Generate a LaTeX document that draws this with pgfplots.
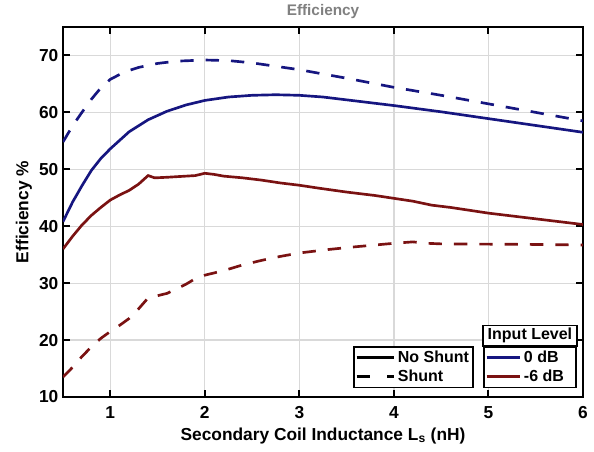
\documentclass[border=0pt]{standalone}
\usepackage{fontspec}
\setmainfont{Liberation Sans}
\usepackage{pgfplots}
\pgfplotsset{compat=1.18}
\definecolor{navy}{RGB}{22,22,128}
\definecolor{dred}{RGB}{122,18,18}
\definecolor{ttl}{RGB}{128,128,128}
\begin{document}
\begin{tikzpicture}
\path[use as bounding box] (-47.25pt,-41.25pt) rectangle (398.25pt,297.75pt);
\begin{axis}[
  at={(0,0)}, anchor=south west,
  scale only axis, width=390pt, height=277.5pt,
  xmin=0.5, xmax=6, ymin=10, ymax=75,
  xtick={1,2,3,4,5,6}, ytick={10,20,30,40,50,60,70},
  /pgf/number format/assume math mode=true,
  tick label style={font=\bfseries\fontsize{13}{14}\selectfont},
  xticklabel style={yshift=-3.5pt},
  grid=major, grid style={line width=0.9pt, black!15},
  axis line style={line width=1.6pt},
  tick style={line width=1.5pt, black},
  major tick length=5pt,
  tick align=inside,
  xlabel={Secondary Coil Inductance L\textsubscript{s} (nH)},
  ylabel={Efficiency \%},
  label style={font=\bfseries\fontsize{13}{14}\selectfont},
  xlabel style={at={(axis description cs:0.5,0)}, anchor=base, yshift=-32.5pt},
  ylabel style={at={(axis description cs:-0.075,0.5)}, anchor=center},
  title={Efficiency},
  every axis title shift=0pt,
  title style={at={(axis description cs:0.5,1.041)}, anchor=center, text=ttl, font=\bfseries\fontsize{11.5}{12}\selectfont},
  legend image code/.code={\draw[#1] (0pt,0pt) -- (25pt,0pt);},
  legend style={at={(0.988,0.024)}, anchor=south east, draw=black, line width=1.2pt, fill=white,
     font=\bfseries\fontsize{12}{12.75}\selectfont, inner sep=1pt, row sep=0pt, name=legIL},
  legend cell align=left,
]
\addplot[navy, line width=2pt, forget plot] coordinates {
(0.5,40.8)(0.6,44.2)(0.7,47.1)(0.8,49.8)(0.9,51.9)(1.0,53.6)(1.2,56.6)(1.4,58.7)(1.6,60.2)(1.8,61.3)(2.0,62.1)(2.25,62.7)(2.5,63.0)(2.75,63.1)(3.0,63.0)(3.25,62.7)(3.5,62.2)(4.0,61.2)(4.5,60.1)(5.0,58.9)(5.5,57.7)(6.0,56.5)};
\addplot[navy, line width=2pt, dash pattern=on 10pt off 9pt, forget plot] coordinates {
(0.5,54.8)(0.6,57.6)(0.7,60.0)(0.8,62.3)(0.9,64.3)(1.0,65.8)(1.15,67.1)(1.3,67.9)(1.5,68.6)(1.7,69.0)(2.0,69.2)(2.25,69.1)(2.5,68.7)(3.0,67.5)(3.5,66.0)(4.0,64.4)(4.5,63.0)(5.0,61.5)(5.5,60.0)(6.0,58.5)};
\addplot[dred, line width=2pt, forget plot] coordinates {
(0.5,36.0)(0.6,38.2)(0.7,40.2)(0.8,41.9)(0.9,43.3)(1.0,44.6)(1.1,45.5)(1.2,46.3)(1.3,47.4)(1.4,48.9)(1.47,48.5)(1.6,48.6)(1.8,48.8)(1.9,48.9)(2.0,49.3)(2.1,49.1)(2.2,48.8)(2.4,48.5)(2.6,48.1)(2.8,47.6)(3.0,47.2)(3.2,46.7)(3.5,46.0)(3.8,45.4)(4.0,44.9)(4.2,44.4)(4.4,43.7)(4.6,43.3)(5.0,42.3)(5.5,41.3)(6.0,40.3)};
\addplot[dred, line width=2pt, dash pattern=on 10pt off 9pt, forget plot] coordinates {
(0.5,13.5)(0.6,15.2)(0.7,17.1)(0.8,18.8)(0.9,20.3)(1.0,21.5)(1.1,22.6)(1.2,23.8)(1.3,25.5)(1.4,27.4)(1.5,27.8)(1.6,28.2)(1.7,29.0)(1.8,29.8)(1.9,30.8)(2.0,31.4)(2.2,32.2)(2.4,33.2)(2.6,34.0)(2.8,34.7)(3.0,35.3)(3.3,35.9)(3.6,36.4)(4.0,37.0)(4.2,37.25)(4.35,37.0)(4.5,36.9)(5.0,36.85)(5.5,36.8)(6.0,36.7)};
\addlegendimage{navy, line width=2pt}
\addlegendentry{\makebox[36pt][l]{0 dB}}
\addlegendimage{dred, line width=2pt}
\addlegendentry{\makebox[36pt][l]{-6 dB}}
\end{axis}
\draw[line width=1.2pt, fill=white] (legIL.north west) rectangle ([yshift=15.4pt]legIL.north east);
\node[font=\bfseries\fontsize{12}{12.75}\selectfont] at ([yshift=7.7pt]legIL.north) {Input Level};
\begin{axis}[
  at={(0,0)}, anchor=south west,
  scale only axis, width=390pt, height=277.5pt,
  xmin=0.5, xmax=6, ymin=10, ymax=75,
  hide axis,
  legend image code/.code={\draw[#1] (0pt,0pt) -- (28pt,0pt);},
  legend style={at={(0.79,0.024)}, anchor=south east, draw=black, line width=1.2pt, fill=white,
     font=\bfseries\fontsize{12}{12.75}\selectfont, inner sep=1pt, row sep=0pt},
  legend cell align=left,
]
\addlegendimage{black, line width=2pt}
\addlegendentry{No Shunt}
\addlegendimage{black, line width=2pt, dash pattern=on 10pt off 13pt}
\addlegendentry{Shunt}
\end{axis}
\end{tikzpicture}
\end{document}
